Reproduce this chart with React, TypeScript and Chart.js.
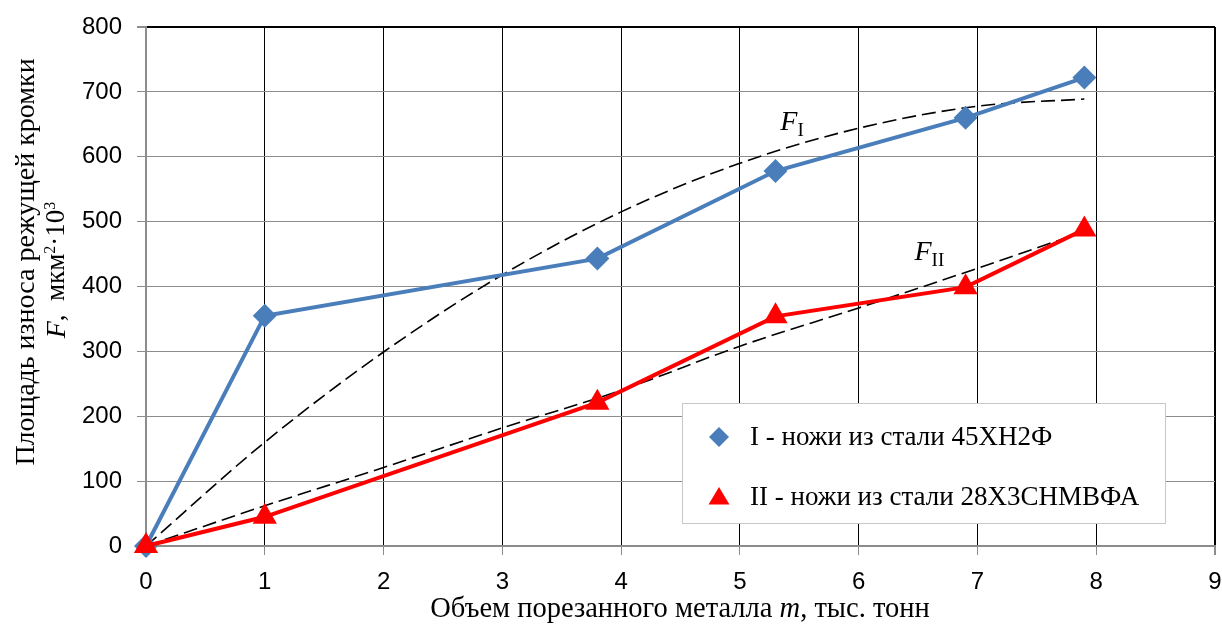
import { useEffect, useRef } from "react";
import { Chart, registerables } from "chart.js";

Chart.register(...registerables);

// ---- data ----
const massI = [0, 1, 3.8, 5.3, 6.9, 7.9];
const wearI = [0, 355, 443, 578, 660, 722];
const massII = [0, 1, 3.8, 5.3, 6.9, 7.9];
const wearII = [0, 45, 221, 354, 399, 488];
const trendX = [0, 1, 2, 3, 4, 5, 6, 7, 7.9];
const trendI = [0, 160, 299, 418, 515, 590, 644, 678, 689];
const trendII = [0, 62, 121, 182, 240, 308, 367, 428, 485];
const xTicks = [0, 1, 2, 3, 4, 5, 6, 7, 8, 9];
const yTicks = [0, 100, 200, 300, 400, 500, 600, 700, 800];
const legendLabels = ["I - ножи из стали 45ХН2Ф", "II - ножи из стали 28Х3СНМВФА"];
const xTitleParts = ["Объем порезанного металла ", "m", ", тыс. тонн"];
const yTitleLine1 = "Площадь износа режущей кромки";
const yTitleLine2 = ["F", ",  мкм", "2", "·10", "3"];
const trendLabels = [
  { main: "F", sub: "I", x: 5.34, y: 641 },
  { main: "F", sub: "II", x: 6.47, y: 441 },
];

const BLUE = "#4a7ebb";
const RED = "#ff0000";
const SERIF = '"Liberation Serif", "Times New Roman", serif';
const SANS = '"Liberation Sans", Arial, sans-serif';

type Run = { text: string; font: string; dy?: number };

function drawRuns(ctx: CanvasRenderingContext2D, runs: Run[], cx: number, y: number) {
  let total = 0;
  const widths = runs.map((r) => {
    ctx.font = r.font;
    const w = ctx.measureText(r.text).width;
    total += w;
    return w;
  });
  let x = cx - total / 2;
  runs.forEach((r, i) => {
    ctx.font = r.font;
    ctx.fillText(r.text, x, y + (r.dy || 0));
    x += widths[i];
  });
}

const overlayPlugin = {
  id: "overlay",
  afterDraw(chart: any) {
    const ctx: CanvasRenderingContext2D = chart.ctx;
    const xs = chart.scales.x;
    const ys = chart.scales.y;
    ctx.save();
    ctx.fillStyle = "#000";
    ctx.textAlign = "left";
    ctx.textBaseline = "alphabetic";

    // x title
    drawRuns(
      ctx,
      [
        { text: xTitleParts[0], font: `28.5px ${SERIF}` },
        { text: xTitleParts[1], font: `italic 28.5px ${SERIF}` },
        { text: xTitleParts[2], font: `28.5px ${SERIF}` },
      ],
      680,
      617
    );

    // y title
    ctx.save();
    ctx.translate(34, 262);
    ctx.rotate(-Math.PI / 2);
    drawRuns(ctx, [{ text: yTitleLine1, font: `28px ${SERIF}` }], 0, 0);
    ctx.restore();

    ctx.save();
    ctx.translate(64, 270);
    ctx.rotate(-Math.PI / 2);
    drawRuns(
      ctx,
      [
        { text: yTitleLine2[0], font: `italic 28px ${SERIF}`, dy: 1 },
        { text: yTitleLine2[1], font: `27px ${SERIF}` },
        { text: yTitleLine2[2], font: `16px ${SERIF}`, dy: -9 },
        { text: yTitleLine2[3], font: `27px ${SERIF}` },
        { text: yTitleLine2[4], font: `16px ${SERIF}`, dy: -9 },
      ],
      0,
      0
    );
    ctx.restore();

    // trend labels
    trendLabels.forEach((t) => {
      const px = xs.getPixelForValue(t.x);
      const py = ys.getPixelForValue(t.y);
      ctx.font = `italic 28px ${SERIF}`;
      ctx.fillText(t.main, px, py);
      const w = ctx.measureText(t.main).width;
      ctx.font = `19px ${SERIF}`;
      ctx.fillText(t.sub, px + w, py + 6);
    });

    // legend
    const lx = 682.5, ly = 403.5, lw = 483, lh = 120;
    ctx.fillStyle = "#fff";
    ctx.fillRect(lx, ly, lw, lh);
    ctx.strokeStyle = "#c8c8c8";
    ctx.lineWidth = 1;
    ctx.strokeRect(lx, ly, lw, lh);

    // diamond
    const d1x = 719, d1y = 437, r = 10;
    ctx.fillStyle = BLUE;
    ctx.beginPath();
    ctx.moveTo(d1x - r, d1y);
    ctx.lineTo(d1x, d1y - r);
    ctx.lineTo(d1x + r, d1y);
    ctx.lineTo(d1x, d1y + r);
    ctx.closePath();
    ctx.fill();
    // triangle
    const t1x = 719, t1y = 498, tr = 11;
    ctx.fillStyle = RED;
    ctx.beginPath();
    ctx.moveTo(t1x, t1y - tr);
    ctx.lineTo(t1x + tr * 0.95, t1y + tr * 0.6);
    ctx.lineTo(t1x - tr * 0.95, t1y + tr * 0.6);
    ctx.closePath();
    ctx.fill();

    ctx.fillStyle = "#000";
    ctx.font = `27px ${SERIF}`;
    ctx.textBaseline = "middle";
    ctx.fillText(legendLabels[0], 750, 438);
    ctx.fillText(legendLabels[1], 750, 498);

    ctx.restore();
  },
};

export default function App() {
  const ref = useRef<HTMLCanvasElement | null>(null);
  useEffect(() => {
    if (!ref.current) return;
    const toPts = (xs: number[], ys: number[]) => xs.map((x, i) => ({ x, y: ys[i] }));
    const chart = new Chart(ref.current, {
      type: "line",
      data: {
        datasets: [
          {
            label: legendLabels[0],
            data: toPts(massI, wearI),
            borderColor: BLUE,
            backgroundColor: BLUE,
            borderWidth: 4,
            pointStyle: "rectRot",
            pointRadius: 12,
            pointBorderWidth: 0,
            pointBackgroundColor: BLUE,
            tension: 0,
            clip: false,
            order: 1,
          },
          {
            label: legendLabels[1],
            data: toPts(massII, wearII),
            borderColor: RED,
            backgroundColor: RED,
            borderWidth: 4,
            pointStyle: "triangle",
            pointRadius: 14,
            pointBorderWidth: 0,
            pointBackgroundColor: RED,
            tension: 0,
            clip: false,
            order: 0,
          },
          {
            label: "FI",
            data: toPts(trendX, trendI),
            borderColor: "#000",
            borderWidth: 1.6,
            borderDash: [14, 6],
            pointRadius: 0,
            cubicInterpolationMode: "monotone",
            order: 2,
          },
          {
            label: "FII",
            data: toPts(trendX, trendII),
            borderColor: "#000",
            borderWidth: 1.6,
            borderDash: [14, 6],
            pointRadius: 0,
            cubicInterpolationMode: "monotone",
            order: 2,
          },
        ],
      },
      options: {
        responsive: false,
        animation: false,
        layout: { autoPadding: false, padding: { top: 27, right: 0, left: 0, bottom: 0 } },
        plugins: {
          legend: { display: false },
          tooltip: { enabled: false },
          title: { display: false },
        },
        scales: {
          x: {
            type: "linear",
            min: 0,
            max: 9,
            afterBuildTicks: (s: any) => {
              s.ticks = xTicks.map((v) => ({ value: v }));
            },
            afterFit: (s: any) => {
              s.height = 78;
              s.paddingRight = 7;
              s.paddingLeft = 0;
            },
            grid: {
              color: (c: any) => (c.index === 0 ? "#8c8c8c" : "#000"),
              lineWidth: (c: any) => (c.tick && c.tick.value === 9 ? 2 : 1),
              tickLength: 9,
              tickColor: "#8c8c8c",
            },
            border: { color: "#8c8c8c", width: 2 },
            ticks: {
              color: "#000",
              font: { family: SANS, size: 24 },
              padding: 13,
              autoSkip: false,
              maxRotation: 0,
            },
          },
          y: {
            type: "linear",
            min: 0,
            max: 800,
            afterBuildTicks: (s: any) => {
              s.ticks = yTicks.map((v) => ({ value: v }));
            },
            afterFit: (s: any) => {
              s.width = 146;
              s.paddingTop = 0;
              s.paddingBottom = 0;
            },
            grid: {
              color: (c: any) => (c.tick && c.tick.value === 800 ? "#000" : "#8c8c8c"),
              lineWidth: (c: any) => (c.tick && c.tick.value === 800 ? 2 : 1),
              tickLength: 9,
              tickColor: "#8c8c8c",
            },
            border: { color: "#8c8c8c", width: 2 },
            ticks: {
              color: "#000",
              font: { family: SANS, size: 24 },
              padding: 15,
            },
          },
        },
      },
      plugins: [overlayPlugin],
    } as any);
    return () => chart.destroy();
  }, []);

  return (
    <div style={{ position: "fixed", left: 0, top: 0, width: 1222, height: 624, background: "#fff" }}>
      <canvas ref={ref} width={1222} height={624} style={{ display: "block" }} />
    </div>
  );
}
